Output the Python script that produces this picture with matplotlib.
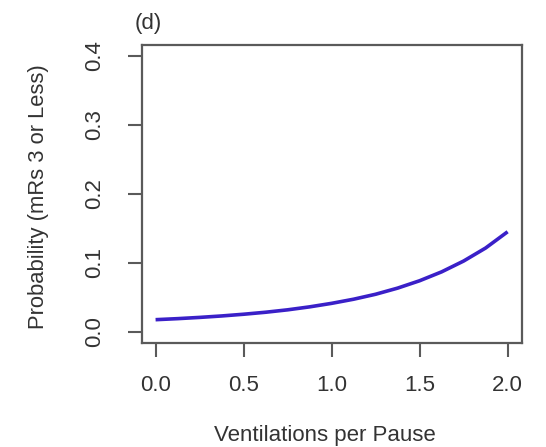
import matplotlib
matplotlib.use("Agg")
import matplotlib.pyplot as plt

# Data
vent_per_pause = [0.0, 0.125, 0.25, 0.375, 0.5, 0.625, 0.75, 0.875, 1.0,
                  1.125, 1.25, 1.375, 1.5, 1.625, 1.75, 1.875, 2.0]
prob_mrs3 = [0.0174, 0.0189, 0.0207, 0.0228, 0.0253, 0.0282, 0.0317, 0.0360, 0.0411,
             0.0471, 0.0543, 0.0632, 0.0739, 0.0868, 0.1025, 0.1214, 0.145]
x_ticks = [0.0, 0.5, 1.0, 1.5, 2.0]
x_ticklabels = ["0.0", "0.5", "1.0", "1.5", "2.0"]
y_ticks = [0.0, 0.1, 0.2, 0.3, 0.4]
y_ticklabels = ["0.0", "0.1", "0.2", "0.3", "0.4"]

plt.rcParams['font.family'] = ['Liberation Sans', 'DejaVu Sans']
text_color = "#333333"
axis_color = "#5a5a5a"

fig = plt.figure(figsize=(5.46, 4.47), dpi=100)
ax = fig.add_axes([141.5/546, 1-342.7/447, (521.7-141.5)/546, (342.7-45)/447])

ax.plot(vent_per_pause, prob_mrs3, color="#3a20c8", linewidth=2.6, solid_capstyle='butt')

ax.set_xlim(-0.08, 2.08)
ax.set_ylim(-0.016, 0.416)
ax.set_xticks(x_ticks)
ax.set_xticklabels(x_ticklabels)
ax.set_yticks(y_ticks)
ax.set_yticklabels(y_ticklabels, rotation=90, va='center')

for s in ax.spines.values():
    s.set_color(axis_color)
    s.set_linewidth(1.6)

ax.tick_params(axis='both', direction='out', length=10, width=1.5, color=axis_color,
               labelsize=16, labelcolor=text_color)
ax.tick_params(axis='x', pad=13.5)
ax.tick_params(axis='y', pad=16)

fig.text(325/546, 1-435/447, "Ventilations per Pause", ha='center', va='center',
         fontsize=16, color=text_color)
fig.text(39/546, 1-196.5/447, "Probability (mRs 3 or Less)", ha='center', va='center',
         rotation=90, fontsize=15.8, color=text_color)
fig.text(135/546, 1-23/447, "(d)", ha='left', va='center', fontsize=16, color=text_color)

fig.savefig("out.png", dpi=100)
